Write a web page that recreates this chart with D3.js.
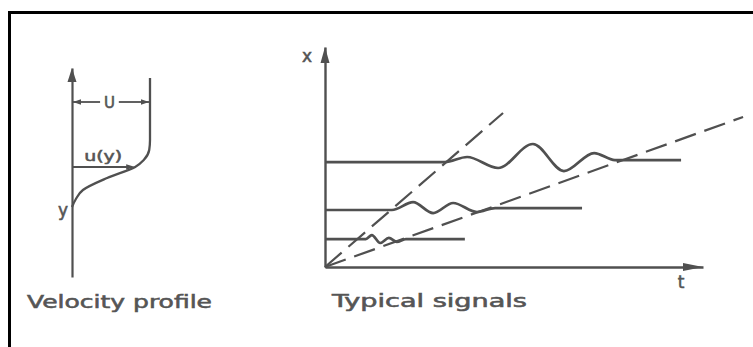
<!DOCTYPE html>
<html>
<head>
<meta charset="utf-8">
<script src="https://cdn.jsdelivr.net/npm/d3@7"></script>
<style>
  html, body { margin: 0; padding: 0; background: #fff; }
  svg { display: block; }
  text { font-family: "DejaVu Sans", "Noto Sans", sans-serif; fill: #555; stroke: #555; stroke-width: 0.55px; }
</style>
</head>
<body>
<svg id="chart" width="753" height="347"></svg>
<script>
// ---- Velocity profile (u against wall distance y) ----
const profileU = [0, 0.05, 0.14, 0.45, 0.81, 0.92, 0.99, 1, 1];
const profileY = [0, 0.8, 1.7, 2.9, 4.0, 4.7, 5.7, 6.7, 12.9];
const freeStreamLevel = 10.5;   // height of the U dimension line
const localLevelIndex = 4;      // profile point marked with u(y)

// ---- Typical signals x(t) at three stations ----
const signalTop = {
  t: [0, 31.7, 37.6, 45.8, 55.0, 63.2, 71.2, 76.7, 94.2],
  x: [47.7, 47.7, 50.0, 45.0, 55.9, 43.6, 51.8, 48.6, 48.6]
};
const signalMid = {
  t: [0, 17.7, 23.3, 28.6, 33.9, 40.2, 45.0, 68.0],
  x: [25.9, 25.9, 29.5, 24.5, 29.1, 25.0, 26.8, 26.8]
};
const signalLow = {
  t: [0, 10.8, 12.4, 14.6, 16.9, 19.0, 21.4, 37.0],
  x: [12.7, 12.7, 14.5, 10.9, 13.2, 11.4, 12.7, 12.7]
};
// dashed rays from the origin (front and rear of the wave packet)
const rayFront = { t: [0, 47.1], x: [0, 70.0] };
const rayRear  = { t: [0, 110.6], x: [0, 68.2] };

const labels = {
  profileTitle: "Velocity profile",
  signalsTitle: "Typical signals",
  U: "U", u: "u(y)", y: "y", x: "x", t: "t"
};

const ink = "#505050";
const svg = d3.select("#chart");

// page frame (top and left rule)
svg.append("path")
  .attr("d", "M9.5,347V12.5H753")
  .attr("fill", "none").attr("stroke", "#000").attr("stroke-width", 3);

function arrowHead(g, x, y, dir, len, half) {
  // dir: "up" | "right" | "left"
  let p;
  if (dir === "up") p = [[x, y], [x - half, y + len], [x + half, y + len]];
  else if (dir === "right") p = [[x, y], [x - len, y - half], [x - len, y + half]];
  else p = [[x, y], [x + len, y - half], [x + len, y + half]];
  g.append("path").attr("d", "M" + p.join("L") + "Z").attr("fill", ink);
}

// ================= Velocity profile =================
const uScale = d3.scaleLinear().domain([0, 1]).range([72, 150]);
const yScale = d3.scaleLinear().domain([-7, 13.9]).range([277, 68]);
const gP = svg.append("g");

// wall-normal axis
const yAxis = d3.axisLeft(yScale).ticks(0).tickSizeOuter(0);
gP.append("g").attr("transform", `translate(${uScale(0)},0)`).call(yAxis)
  .call(g => g.select(".domain").attr("stroke", ink).attr("stroke-width", 2.2));
arrowHead(gP, uScale(0), yScale(13.9), "up", 14, 4.5);

// profile curve
gP.append("path")
  .datum(profileU.map((u, i) => [u, profileY[i]]))
  .attr("fill", "none").attr("stroke", ink).attr("stroke-width", 2.3)
  .attr("d", d3.line().x(d => uScale(d[0])).y(d => yScale(d[1])).curve(d3.curveMonotoneY));

// U dimension
const yU = yScale(freeStreamLevel);
gP.append("line").attr("x1", uScale(0)).attr("x2", uScale(0.36)).attr("y1", yU).attr("y2", yU)
  .attr("stroke", ink).attr("stroke-width", 1.8);
gP.append("line").attr("x1", uScale(0.6)).attr("x2", uScale(1)).attr("y1", yU).attr("y2", yU)
  .attr("stroke", ink).attr("stroke-width", 1.8);
arrowHead(gP, uScale(0) + 1, yU, "left", 8, 2.8);
arrowHead(gP, uScale(1) - 1, yU, "right", 8, 2.8);
gP.append("text").attr("x", uScale(0.48)).attr("y", yU + 5.5).attr("text-anchor", "middle")
  .attr("font-size", 15).text(labels.U);

// u(y) arrow
const yLoc = yScale(profileY[localLevelIndex]);
gP.append("line").attr("x1", uScale(0)).attr("x2", uScale(profileU[localLevelIndex]) - 6)
  .attr("y1", yLoc).attr("y2", yLoc).attr("stroke", ink).attr("stroke-width", 2);
arrowHead(gP, uScale(profileU[localLevelIndex]), yLoc, "right", 9, 2.8);
gP.append("text").attr("x", uScale(0.4)).attr("y", yLoc - 6).attr("text-anchor", "middle")
  .attr("font-size", 14).attr("textLength", 38).attr("lengthAdjust", "spacingAndGlyphs")
  .text(labels.u);

gP.append("text").attr("x", uScale(0) - 4).attr("y", 216).attr("text-anchor", "end")
  .attr("font-size", 17).text(labels.y);

gP.append("text").attr("x", 27).attr("y", 308).attr("font-size", 17)
  .attr("textLength", 185).attr("lengthAdjust", "spacingAndGlyphs")
  .text(labels.profileTitle);

// ================= Typical signals =================
const tScale = d3.scaleLinear().domain([0, 100]).range([325, 703]);
const xScale = d3.scaleLinear().domain([0, 100]).range([267, 47]);
const gS = svg.append("g");

const tAxis = d3.axisBottom(tScale).ticks(0).tickSizeOuter(0);
const xAxis = d3.axisLeft(xScale).ticks(0).tickSizeOuter(0);
gS.append("g").attr("transform", `translate(0,${xScale(0)})`).call(tAxis)
  .call(g => g.select(".domain").attr("stroke", ink).attr("stroke-width", 2.4));
gS.append("g").attr("transform", `translate(${tScale(0)},0)`).call(xAxis)
  .call(g => g.select(".domain").attr("stroke", ink).attr("stroke-width", 2.4));
arrowHead(gS, tScale(100), xScale(0), "right", 20, 4);
arrowHead(gS, tScale(0), xScale(100), "up", 16, 4.5);

const sigLine = d3.line().x(d => tScale(d[0])).y(d => xScale(d[1])).curve(d3.curveMonotoneX);
[rayFront, rayRear].forEach(r => {
  gS.append("path").datum(r.t.map((t, i) => [t, r.x[i]]))
    .attr("fill", "none").attr("stroke", ink).attr("stroke-width", 2.2)
    .attr("stroke-dasharray", "22,9")
    .attr("d", d3.line().x(d => tScale(d[0])).y(d => xScale(d[1])));
});
[signalTop, signalMid, signalLow].forEach(s => {
  gS.append("path").datum(s.t.map((t, i) => [t, s.x[i]]))
    .attr("fill", "none").attr("stroke", ink).attr("stroke-width", 2.7)
    .attr("stroke-linejoin", "round").attr("d", sigLine);
});

gS.append("text").attr("x", 307).attr("y", 62).attr("text-anchor", "middle")
  .attr("font-size", 17).text(labels.x);
gS.append("text").attr("x", 681).attr("y", 288).attr("text-anchor", "middle")
  .attr("font-size", 17).text(labels.t);
gS.append("text").attr("x", 332).attr("y", 307).attr("font-size", 17)
  .attr("textLength", 195).attr("lengthAdjust", "spacingAndGlyphs")
  .text(labels.signalsTitle);
</script>
</body>
</html>
